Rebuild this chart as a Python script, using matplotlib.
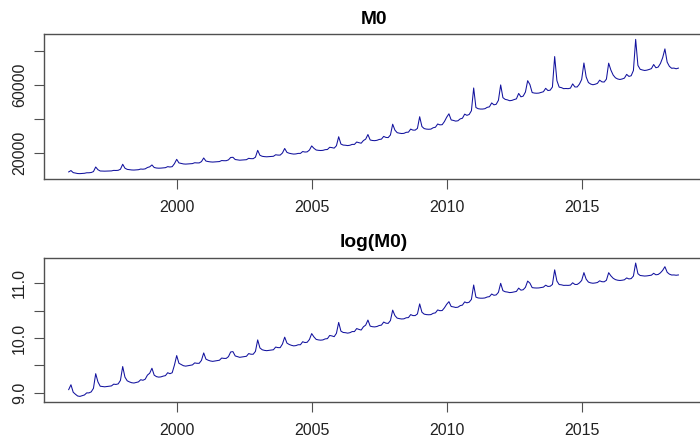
import numpy as np
import matplotlib
matplotlib.use('Agg')
import matplotlib.pyplot as plt

plt.rcParams['font.family'] = ['Liberation Sans', 'DejaVu Sans']

# monthly M0 (100 million yuan), Jan 1996 - Aug 2018
start_year = 1996
m0_1996_2001 = [
    8600, 9400, 8200, 7900, 7650, 7600, 7700, 7800, 8100, 8100, 8250, 8802,
    11500, 9900, 9150, 9100, 9050, 9100, 9150, 9200, 9500, 9450, 9550, 10178,
    13100, 10800, 10100, 9900, 9750, 9700, 9800, 9900, 10300, 10200, 10400, 11204,
    11600, 12700, 11200, 10900, 10800, 10850, 11000, 11100, 11700, 11500, 11700, 13456,
    16000, 13900, 13600, 13300, 13200, 13300, 13400, 13500, 14000, 13900, 13900, 14653,
    16800, 15000, 14700, 14500, 14400, 14500, 14600, 14700, 15300, 15200, 15200, 15689,
]
m0_2002_2007 = [
    17100, 17200, 15900, 15700, 15500, 15600, 15700, 15800, 16600, 16400, 16400, 17278,
    21300, 18400, 17800, 17600, 17500, 17600, 17700, 17800, 18700, 18500, 18500, 19746,
    22400, 20100, 19600, 19300, 19100, 19200, 19500, 19500, 20600, 20300, 20400, 21468,
    23900, 22500, 21500, 21300, 21200, 21300, 21700, 21800, 23100, 22900, 22600, 24032,
    29300, 25000, 24400, 24300, 24100, 24300, 24800, 24800, 26200, 25800, 25500, 27073,
    27900, 30600, 27400, 27100, 27000, 27200, 27700, 27900, 29500, 28900, 28800, 30334,
]
m0_2008_2013 = [
    36673, 33200, 31700, 31400, 31200, 31300, 31900, 32000, 33800, 33200, 33200, 34219,
    41082, 35300, 34100, 33800, 33700, 33800, 34600, 34900, 36800, 36300, 36400, 38246,
    40800, 42800, 39200, 38900, 38500, 38700, 39800, 40200, 42600, 41900, 42400, 44628,
    58000, 46500, 45800, 45600, 45600, 45800, 46600, 46900, 49200, 48100, 48400, 50748,
    59800, 52300, 51300, 51000, 50500, 50700, 51200, 51600, 54800, 52800, 53200, 55600,
    62300, 60000, 55300, 55000, 54900, 55000, 55400, 55800, 57800, 56500, 56700, 58574,
]
m0_2014_2018 = [
    76488, 62300, 58500, 58200, 57600, 57700, 57600, 57900, 60400, 58600, 58600, 60260,
    63000, 72700, 64500, 61200, 60300, 59900, 60200, 60700, 62600, 61600, 61500, 63217,
    72600, 68500, 65600, 64000, 63300, 63000, 63300, 63800, 66000, 64800, 65200, 68304,
    86598, 71300, 69000, 68600, 68300, 68500, 68900, 69400, 71800, 69900, 70300, 72400,
    75800, 81000, 73200, 70700, 69600, 69700, 69300, 69700,
]

m0 = np.array(m0_1996_2001 + m0_2002_2007 + m0_2008_2013 + m0_2014_2018, dtype=float)
t = start_year + np.arange(len(m0)) / 12.0

LINE = '#12129e'
FRAME = '#505050'


def r_lim(v):
    # R pads the data range by 4% on each side
    lo, hi = v.min(), v.max()
    d = 0.04 * (hi - lo)
    return lo - d, hi + d


def ts_panel(ax, y, title, yticks, ylabels):
    ax.plot(t, y, color=LINE, lw=0.75)
    ax.set_xlim(*r_lim(t))
    ax.set_ylim(*r_lim(y))
    ax.set_title(title, fontsize=13.8, fontweight='bold', pad=7.5)
    ax.set_xticks([2000, 2005, 2010, 2015])
    ax.set_yticks(yticks)
    ax.set_yticklabels(ylabels)
    plt.setp(ax.get_yticklabels(), rotation=90, va='center')
    ax.tick_params(axis='x', length=7.5, width=0.8, color=FRAME, pad=7.5, labelsize=11.5, labelcolor='#222222')
    ax.tick_params(axis='y', length=7.5, width=0.8, color=FRAME, pad=5, labelsize=11.5, labelcolor='#222222')
    for s in ax.spines.values():
        s.set_color(FRAME)
        s.set_linewidth(1.0)
    # the right edge of the box falls just outside the image
    ax.spines['right'].set_visible(False)


fig = plt.figure(figsize=(7, 4.4), dpi=100)
ax1 = fig.add_axes([0.0633, 0.5932, 0.9407, 0.3295])
ax2 = fig.add_axes([0.0633, 0.0870, 0.9407, 0.3273])

ts_panel(ax1, m0, 'M0', [20000, 40000, 60000, 80000], ['20000', '', '60000', ''])
ts_panel(ax2, np.log(m0), 'log(M0)', [9.0, 9.5, 10.0, 10.5, 11.0], ['9.0', '', '10.0', '', '11.0'])

fig.savefig('out.png', dpi=100)
plt.close(fig)
